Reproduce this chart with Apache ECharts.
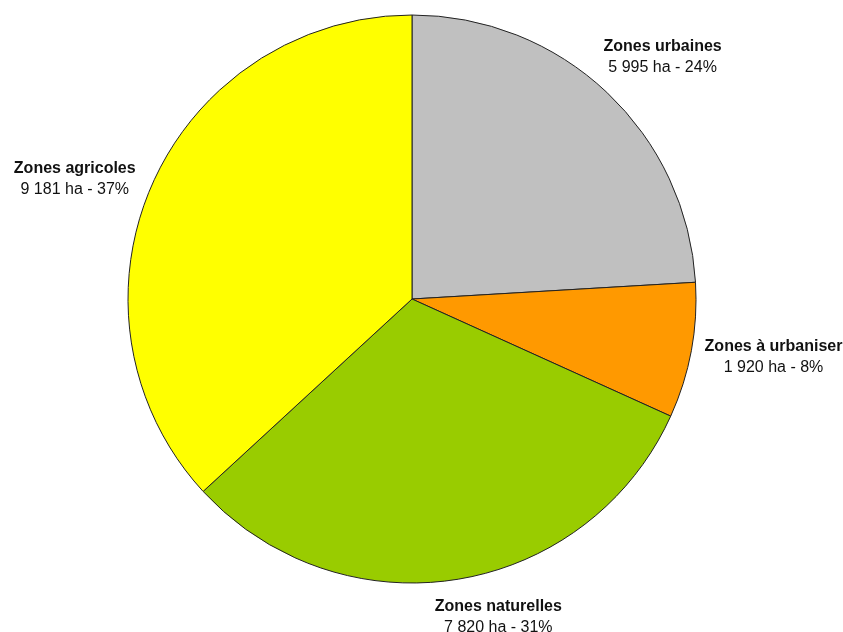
<!DOCTYPE html>
<html>
<head>
<meta charset="utf-8">
<script src="https://cdn.jsdelivr.net/npm/echarts@6/dist/echarts.min.js"></script>
<style>
  html, body { margin: 0; padding: 0; background: #fff; }
  #chart { width: 843px; height: 632px; }
</style>
</head>
<body>
<div id="chart"></div>
<script>
// surfaces par type de zone (ha)
const zones = ['Zones urbaines', 'Zones à urbaniser', 'Zones naturelles', 'Zones agricoles'];
const surfaces = [5995, 1920, 7820, 9181];
const couleurs = ['#C0C0C0', '#FF9900', '#99CC00', '#FFFF00'];

// petits décalages manuels des étiquettes (px)
const decalages = [[12, 11], [4, -8], [35, -1], [-11, 23]];

const cx = 412, cy = 299, R = 284;
const total = surfaces.reduce((a, b) => a + b, 0);

// angle du milieu de chaque part (sens horaire depuis midi)
const milieux = [];
let cumul = 0;
surfaces.forEach(v => {
    milieux.push((cumul + v / 2) / total * 2 * Math.PI);
    cumul += v;
});

function fmt(n) {
    return String(n).replace(/\B(?=(\d{3})+(?!\d))/g, ' ');
}

const police = 'Liberation Sans, Arial, sans-serif';
const chart = echarts.init(document.getElementById('chart'));

chart.setOption({
    animation: false,
    series: [{
        type: 'pie',
        center: [cx, cy],
        radius: R,
        startAngle: 90,
        clockwise: true,
        data: zones.map((z, i) => ({
            name: z,
            value: surfaces[i],
            itemStyle: { color: couleurs[i] }
        })),
        itemStyle: { borderColor: '#222', borderWidth: 1 },
        emphasis: { disabled: true },
        labelLine: { show: false },
        label: {
            show: true,
            position: 'outside',
            alignTo: 'none',
            overflow: 'none',
            fontFamily: police,
            fontSize: 16,
            lineHeight: 21,
            color: '#111',
            align: 'center',
            formatter: p => '{b|' + p.name + '}\n' + fmt(p.value) + ' ha - ' + Math.round(p.value / total * 100) + '%',
            rich: {
                b: { fontWeight: 'bold', fontSize: 16, lineHeight: 21, fontFamily: police, color: '#111' }
            }
        },
        labelLayout: function (params) {
            const i = params.dataIndex;
            const a = milieux[i];
            const s = Math.sin(a), c = Math.cos(a);
            const hw = params.labelRect.width / 2, hh = params.labelRect.height / 2;
            const d = R + 8 + hw * Math.abs(s) + hh * Math.abs(c);
            return {
                x: cx + d * s + decalages[i][0],
                y: cy - d * c + decalages[i][1],
                align: 'center',
                verticalAlign: 'middle'
            };
        }
    }]
});
</script>
</body>
</html>
